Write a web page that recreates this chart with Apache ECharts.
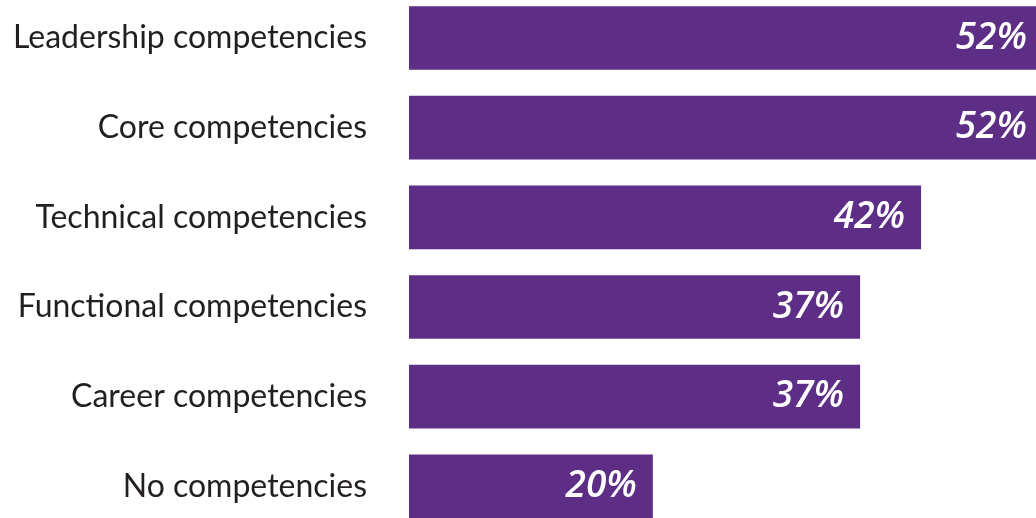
<!DOCTYPE html>
<html>
<head>
<meta charset="utf-8">
<script src="https://cdn.jsdelivr.net/npm/echarts@6/dist/echarts.min.js"></script>
<style>
  html, body { margin: 0; padding: 0; background: #ffffff; }
  #chart { width: 1036px; height: 518px; }
</style>
</head>
<body>
<div id="chart"></div>
<script>
// Share of respondents whose program covers each type of competency
const categories = [
  'Leadership competencies',
  'Core competencies',
  'Technical competencies',
  'Functional competencies',
  'Career competencies',
  'No competencies'
];
const shares = [52, 52, 42, 37, 37, 20];

const chart = echarts.init(document.getElementById('chart'));

chart.setOption({
  backgroundColor: '#ffffff',
  animation: false,
  grid: {
    left: 409,
    top: -6.8,
    width: 634,
    height: 538,
    containLabel: false,
    outerBoundsMode: 'none'
  },
  xAxis: {
    type: 'value',
    min: 0,
    max: 52,
    show: false
  },
  yAxis: {
    type: 'category',
    data: categories,
    inverse: true,
    axisLine: { show: false },
    axisTick: { show: false },
    splitLine: { show: false },
    axisLabel: {
      margin: 42,
      color: '#231f20',
      fontFamily: 'Lato',
      fontSize: 32,
      padding: [4, 0, 0, 0]
    }
  },
  series: [{
    type: 'bar',
    data: shares,
    barWidth: '71%',
    itemStyle: { color: '#5e2d86' },
    label: {
      show: true,
      position: 'insideRight',
      distance: 16,
      formatter: '{c}%',
      color: '#ffffff',
      fontFamily: 'Open Sans',
      fontStyle: 'italic',
      fontWeight: 600,
      fontSize: 37
    }
  }]
});
</script>
</body>
</html>
